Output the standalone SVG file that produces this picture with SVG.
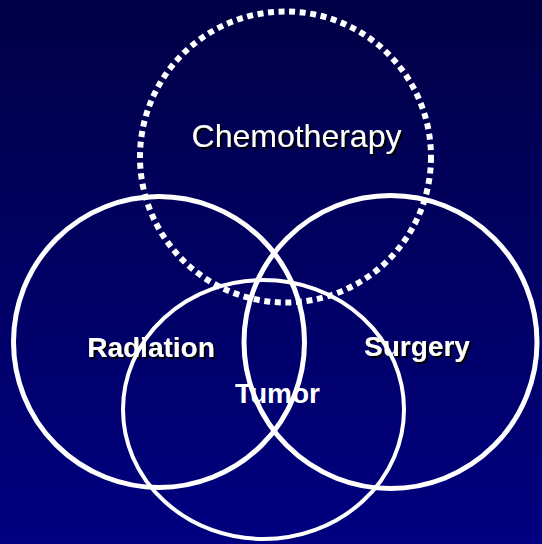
<svg xmlns="http://www.w3.org/2000/svg" width="542" height="544" viewBox="0 0 542 544">
<defs>
<linearGradient id="bg" x1="0" y1="0" x2="0" y2="1">
<stop offset="0" stop-color="#000046"/>
<stop offset="1" stop-color="#000080"/>
</linearGradient>
<filter id="shadow" x="-10%" y="-20%" width="120%" height="150%">
<feDropShadow dx="2" dy="2" stdDeviation="0.4" flood-color="#000" flood-opacity="1"/>
</filter>
</defs>
<style>
.ring{fill:none;stroke:#fff}
.lbl{font-family:"Liberation Sans",Arial,sans-serif;fill:#fff;text-anchor:middle}
.b{font-weight:bold;font-size:28px}
.sh{filter:url(#shadow)}
</style>
<rect width="542" height="544" fill="url(#bg)"/>
<g id="chemotherapy">
<circle class="ring" cx="285.5" cy="157" r="145.5" stroke-width="6" stroke-dasharray="6 4.6"/>
<text class="lbl sh" x="296.5" y="147" style="font-size:32px">Chemotherapy</text>
</g>
<g id="radiation">
<circle class="ring" cx="159" cy="342" r="145.5" stroke-width="5"/>
<text class="lbl b sh" x="151" y="357">Radiation</text>
</g>
<g id="surgery">
<circle class="ring" cx="390.5" cy="342" r="146.5" stroke-width="5"/>
<text class="lbl b sh" x="417" y="356">Surgery</text>
</g>
<g id="tumor">
<ellipse class="ring" cx="263.5" cy="409.5" rx="140.5" ry="129.5" stroke-width="4"/>
<text class="lbl b" x="277.5" y="403">Tumor</text>
</g>
<g id="connectors"/>
</svg>
